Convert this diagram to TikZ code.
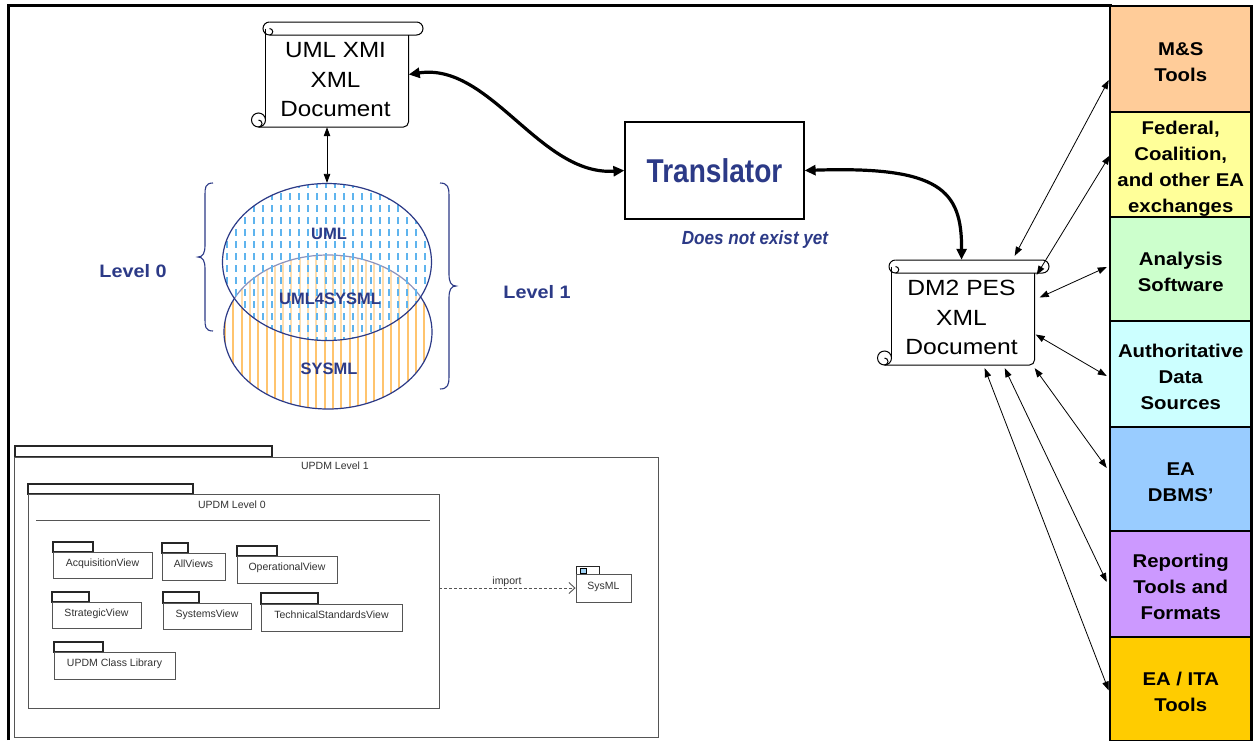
\documentclass[tikz,border=0pt]{standalone}
\usepackage{fontspec}
\setmainfont{Liberation Sans}
\usetikzlibrary{arrows.meta,calc,shapes.geometric}
\definecolor{navy}{RGB}{44,58,135}
\definecolor{msc}{RGB}{255,204,153}
\definecolor{fedc}{RGB}{255,255,153}
\definecolor{anac}{RGB}{204,255,204}
\definecolor{authc}{RGB}{204,255,255}
\definecolor{dbmsc}{RGB}{153,204,255}
\definecolor{repc}{RGB}{204,153,255}
\definecolor{itac}{RGB}{255,204,0}
\definecolor{stripe}{RGB}{255,196,110}
\definecolor{bdash}{RGB}{95,180,238}
\definecolor{umlgrey}{RGB}{85,85,85}
\definecolor{umltext}{RGB}{50,50,50}
\newcommand{\hsc}[2]{\scalebox{#1}[1]{#2}}
\newcommand{\coltext}[1]{\raisebox{-8.6pt}[0pt][0pt]{\hsc{1.1}{\begin{tabular}{@{}c@{}}#1\end{tabular}}}}
\newcommand{\scrolltxt}[2]{\raisebox{-12.1pt}[0pt][0pt]{\hsc{#1}{\begin{tabular}{@{}c@{}}#2\end{tabular}}}}
\newcommand{\scrollshape}[2]{%
  \begin{scope}[shift={(#1,#2)}]
    \draw[scrollline] (7,0) -- (154,0) arc[start angle=-90,end angle=90,radius=6.5] -- (7,13);
    \draw[scrollline] (7,0) arc[start angle=-90,end angle=-270,radius=6.5]
                    arc[start angle=90,end angle=-90,radius=3.25];
    \draw[scrollline] (2.5,6.5) -- (2.5,97);
    \draw[scrollline, rounded corners=5] (146,13) -- (146,105) -- (-4,105);
    \draw[scrollline] (-4,98) circle[radius=7];
    \draw[scrollline] (-4,105) arc[start angle=90,end angle=-90,radius=3.5];
  \end{scope}}
\tikzset{
  scrollline/.style={line width=1pt, black},
  scrolltext/.style={inner sep=0, minimum width=146, minimum height=105,
     font=\fontsize{22}{29.5}\selectfont},
  colbox/.style={draw=black, line width=2.5pt, inner sep=0, minimum width=141.5,
     font=\bfseries\fontsize{18.5}{26}\selectfont},
  conn/.style={line width=0.8pt, {Triangle[length=9pt,width=6.5pt]}-{Triangle[length=9pt,width=6.5pt]}},
  bigarrow/.style={line width=3.2pt, {Triangle[length=11pt,width=10pt]}-{Triangle[length=11pt,width=10pt]}},
  bracestyle/.style={draw=navy, line width=1.1pt},
  ellipselabel/.style={text=navy, font=\bfseries\fontsize{16.5}{16.5}\selectfont},
  levellabel/.style={text=navy, font=\bfseries\fontsize{18}{18}\selectfont},
  umlframe/.style={draw=umlgrey, line width=0.9pt, inner sep=0},
  umltab/.style={draw=black!85, line width=1.3pt},
  pkgbox/.style={draw=umlgrey, line width=0.9pt, inner sep=0, text=umltext,
     font=\fontsize{10.5}{12}\selectfont, text height=8pt, text depth=6pt},
  umllabel/.style={text=umltext, font=\fontsize{10.5}{12}\selectfont, inner sep=0},
}
\begin{document}
\begin{tikzpicture}[x=1pt,y=-1pt]
\useasboundingbox (0,0) rectangle (1253,740);
\fill[white] (0,0) rectangle (1253,740);
% outer frame
\draw[line width=3pt] (8,740) -- (8,5) -- (1112,5);

% right column
\node[colbox, fill=msc, minimum height=106] (ms) at (1180.75,59) {\coltext{M\&S\\Tools}};
\node[colbox, fill=fedc, minimum height=105] (fed) at (1180.75,164.5) {\coltext{Federal,\\Coalition,\\and other EA\\exchanges}};
\node[colbox, fill=anac, minimum height=104] (ana) at (1180.75,269) {\coltext{Analysis\\Software}};
\node[colbox, fill=authc, minimum height=106] (auth) at (1180.75,374) {\coltext{Authoritative\\Data\\Sources}};
\node[colbox, fill=dbmsc, minimum height=104] (dbms) at (1180.75,479) {\coltext{EA\\DBMS’}};
\node[colbox, fill=repc, minimum height=106] (rep) at (1180.75,584) {\coltext{Reporting\\Tools and\\Formats}};
\node[colbox, fill=itac, minimum height=104] (ita) at (1180.75,689) {\coltext{EA / ITA\\Tools}};

% scrolls
\scrollshape{262.5}{22}
\node[scrolltext] (umlx) at (335.5,74.5) {\scrolltxt{1.1}{UML XMI\\XML\\Document}};
\scrollshape{888.5}{260}
\node[scrolltext] (dm2) at (961.5,312.5) {\scrolltxt{1.12}{DM2 PES\\XML\\Document}};

% translator
\node[draw, line width=1.2pt, minimum width=179, minimum height=97, inner sep=0,
      text=navy, font=\bfseries\fontsize{33}{33}\selectfont] (trans) at (714.5,170.5) {\hsc{0.85}{Translator}};
\node[text=navy, font=\bfseries\itshape\fontsize{19}{19}\selectfont, inner sep=0] (notyet) at (755,240) {\hsc{0.9}{Does not exist yet}};

% ellipses
\begin{scope}
  \clip (328,332) ellipse [x radius=104, y radius=77];
  \foreach \i in {0,...,25} \draw[stripe, line width=2pt] ({225+8.3*\i},250) -- ({225+8.3*\i},412);
\end{scope}
\node[ellipse, draw=navy, line width=1.2pt, minimum width=208, minimum height=154, inner sep=0] (sysell) at (328,332) {};
\fill[white, opacity=0.45] (327,262) ellipse [x radius=104.5, y radius=78.5];
\begin{scope}
  \clip (327,262) ellipse [x radius=104.5, y radius=78.5];
  \foreach \i in {0,...,23} \draw[bdash, line width=2.2pt, dash pattern=on 7pt off 5pt] ({227+9*\i},181) -- ({227+9*\i},345);
\end{scope}
\node[ellipse, draw=navy, line width=1.2pt, minimum width=209, minimum height=157, inner sep=0] (umlell) at (327,262) {};
\node[ellipselabel] (lbluml) at (329,234) {UML};
\node[ellipselabel] (lblboth) at (330,299) {UML4SYSML};
\node[ellipselabel] (lblsys) at (329,369) {SYSML};

% braces
\draw[bracestyle] (213,183) .. controls (205,183) and (205,188) .. (205,195) -- (205,245)
   .. controls (205,253) and (203,257) .. (198,257) .. controls (203,257) and (205,261) .. (205,269)
   -- (205,319) .. controls (205,326) and (205,331) .. (213,331);
\draw[bracestyle] (440,183) .. controls (448,183) and (449,188) .. (449,195) -- (449,274)
   .. controls (449,282) and (451,286) .. (456,286) .. controls (451,286) and (449,290) .. (449,298)
   -- (449,377) .. controls (449,384) and (448,389) .. (440,389);
\node[levellabel] (lvlzero) at (133,271) {\hsc{1.1}{Level 0}};
\node[levellabel] (lvlone) at (537,292) {\hsc{1.1}{Level 1}};

% connectors
\draw[conn] (umlell.north |- umlx.south) -- (umlell.north);
\draw[bigarrow] (umlx.east) .. controls (490,62) and (540,176) .. (trans.west);
\draw[bigarrow] (trans.east) .. controls (940,166) and (962,190) .. (dm2.north);

\draw[conn] ($(dm2.north east)+(-20,-4)$) -- ($(ms.west)+(0,21)$);
\draw[conn] ($(dm2.north east)+(2,15)$) -- ($(fed.west)+(1,-9)$);
\draw[conn] ($(dm2.east)+(5,-15)$) -- ($(ana.west)+(-2,-2)$);
\draw[conn] ($(dm2.east)+(1,22)$) -- ($(auth.west)+(-2,2)$);
\draw[conn] ($(dm2.south east)+(0,3)$) -- ($(dbms.west)+(-2,-11)$);
\draw[conn] ($(dm2.south east)+(-30,3)$) -- ($(rep.west)+(-2,-2)$);
\draw[conn] ($(dm2.south east)+(-50,3)$) -- ($(ita.west)+(0,1.5)$);

% UPDM diagram
\draw[umltab] (15,446) rectangle (272,457);
\node[umlframe, minimum width=644, minimum height=280] (lvl1) at (336,597) {};
\node[umllabel] (lvl1t) at (335,466) {UPDM Level 1};
\draw[umltab] (28,484) rectangle (193,494);
\node[umlframe, minimum width=411, minimum height=214] (lvl0) at (233.5,601) {};
\node[umllabel] (lvl0t) at (232,505) {UPDM Level 0};
\draw[umlgrey, line width=0.9pt] (36,520) -- (430,520);

\draw[umltab] (53,542) rectangle (93,552);
\node[pkgbox, minimum width=99, minimum height=26] (acq) at (102.5,565) {AcquisitionView};
\draw[umltab] (162,543) rectangle (188,553);
\node[pkgbox, minimum width=63, minimum height=27] (allv) at (193.5,566.5) {AllViews};
\draw[umltab] (237,546) rectangle (277,556);
\node[pkgbox, minimum width=100, minimum height=27] (opv) at (287,569.5) {OperationalView};
\draw[umltab] (52,592) rectangle (89,602);
\node[pkgbox, minimum width=89, minimum height=26] (strv) at (96.5,615) {StrategicView};
\draw[umltab] (163,592) rectangle (199,603);
\node[pkgbox, minimum width=88, minimum height=26] (sysv) at (207,616) {SystemsView};
\draw[umltab] (261,593) rectangle (318,604);
\node[pkgbox, minimum width=141, minimum height=27] (tsv) at (331.5,617.5) {TechnicalStandardsView};
\draw[umltab] (54,642) rectangle (103,652);
\node[pkgbox, minimum width=121, minimum height=27] (ucl) at (114.5,665.5) {UPDM Class Library};

\draw[umltab, line width=1pt] (576,566) rectangle (599,574);
\fill[bdash!60] (580,568) rectangle (586,573);
\draw[black, line width=0.5pt] (580,568) rectangle (586,573);
\node[pkgbox, minimum width=55, minimum height=28] (sysml) at (603.5,588) {SysML};
\draw[umlgrey, line width=0.9pt, dash pattern=on 3pt off 2pt, -{Straight Barb[length=6pt,width=11pt]}]
   (lvl0.east |- sysml.west) -- (sysml.west);
\node[umllabel] (imp) at (507,582) {import};
\end{tikzpicture}
\end{document}
